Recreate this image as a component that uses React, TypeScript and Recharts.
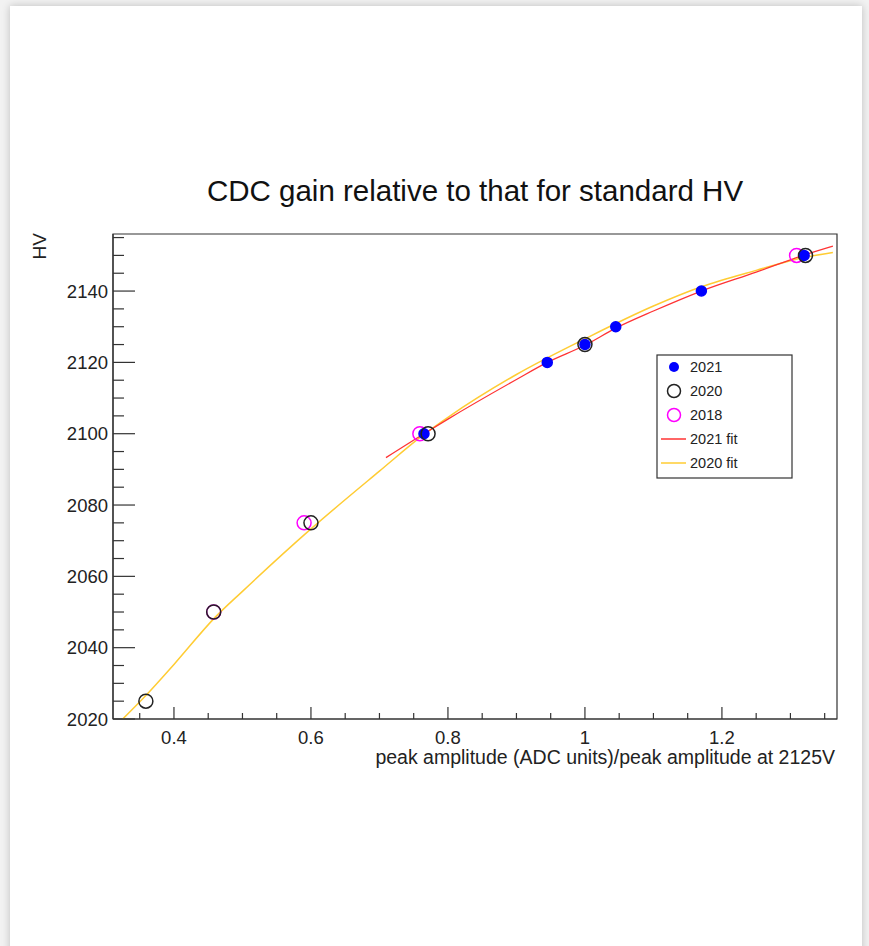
import React from "react";
import {
  ComposedChart,
  Line,
  Scatter,
  XAxis,
  YAxis,
  ReferenceArea,
} from "recharts";

// measured points (x = relative peak amplitude, y = HV)
const data2021 = [
  { x: 0.765, y: 2100 },
  { x: 0.945, y: 2120 },
  { x: 1.0, y: 2125 },
  { x: 1.045, y: 2130 },
  { x: 1.17, y: 2140 },
  { x: 1.32, y: 2150 },
];

const data2020 = [
  { x: 0.359, y: 2025 },
  { x: 0.458, y: 2050 },
  { x: 0.6, y: 2075 },
  { x: 0.771, y: 2100 },
  { x: 1.0, y: 2125 },
  { x: 1.322, y: 2150 },
];

const data2018 = [
  { x: 0.458, y: 2050 },
  { x: 0.59, y: 2075 },
  { x: 0.759, y: 2100 },
  { x: 1.309, y: 2150 },
];

// fit curves
const fit2021 = [
  { x: 0.7095, y: 2093.3 },
  { x: 0.765, y: 2100 },
  { x: 0.8, y: 2104.1 },
  { x: 0.9, y: 2115.2 },
  { x: 0.945, y: 2120 },
  { x: 1.0, y: 2124.8 },
  { x: 1.045, y: 2129.6 },
  { x: 1.1, y: 2134.4 },
  { x: 1.17, y: 2140 },
  { x: 1.25, y: 2145.3 },
  { x: 1.32, y: 2150.1 },
  { x: 1.362, y: 2152.6 },
];

const fit2020 = [
  { x: 0.3236, y: 2019.7 },
  { x: 0.36, y: 2026.8 },
  { x: 0.4, y: 2035.3 },
  { x: 0.46, y: 2048.5 },
  { x: 0.5, y: 2055.8 },
  { x: 0.6, y: 2073.3 },
  { x: 0.7, y: 2089.5 },
  { x: 0.765, y: 2099.8 },
  { x: 0.8, y: 2104.6 },
  { x: 0.9, y: 2116.6 },
  { x: 1.0, y: 2126.6 },
  { x: 1.1, y: 2135.8 },
  { x: 1.17, y: 2141.2 },
  { x: 1.25, y: 2145.8 },
  { x: 1.32, y: 2149.4 },
  { x: 1.362, y: 2150.8 },
];

const xMajor = [0.4, 0.6, 0.8, 1, 1.2];
const xTicks = [
  0.35, 0.4, 0.45, 0.5, 0.55, 0.6, 0.65, 0.7, 0.75, 0.8, 0.85, 0.9, 0.95, 1,
  1.05, 1.1, 1.15, 1.2, 1.25, 1.3, 1.35,
];
const yMajor = [2020, 2040, 2060, 2080, 2100, 2120, 2140];
const yTicks = [
  2020, 2025, 2030, 2035, 2040, 2045, 2050, 2055, 2060, 2065, 2070, 2075, 2080,
  2085, 2090, 2095, 2100, 2105, 2110, 2115, 2120, 2125, 2130, 2135, 2140, 2145,
  2150, 2155,
];

const X_DOMAIN: [number, number] = [0.311, 1.368];
const Y_DOMAIN: [number, number] = [2020, 2156];

const FONT = "'Liberation Sans', Arial, Helvetica, sans-serif";
const AXIS = "#333";

const isIn = (list: number[], v: number) => list.some((m) => Math.abs(m - v) < 1e-6);

const XTick = (props: any) => {
  const { x, y, payload } = props;
  const major = isIn(xMajor, payload.value);
  return (
    <g>
      <line x1={x} y1={y} x2={x} y2={y - (major ? 12 : 6)} stroke={AXIS} strokeWidth={1.2} />
      {major && (
        <text x={x} y={y + 25} textAnchor="middle" fontSize={18.5} fill="#222" fontFamily={FONT}>
          {payload.value}
        </text>
      )}
    </g>
  );
};

const YTick = (props: any) => {
  const { x, y, payload } = props;
  const major = isIn(yMajor, payload.value);
  return (
    <g>
      <line x1={x} y1={y} x2={x + (major ? 22 : 11)} y2={y} stroke={AXIS} strokeWidth={1.2} />
      {major && (
        <text x={x - 5} y={y + 6.5} textAnchor="end" fontSize={18.5} fill="#222" fontFamily={FONT}>
          {payload.value}
        </text>
      )}
    </g>
  );
};

const dot = (fill: string, stroke: string, r: number) => (props: any) => (
  <circle cx={props.cx} cy={props.cy} r={r} fill={fill} stroke={stroke} strokeWidth={1.5} />
);

const legendRows = [
  { label: "2021", kind: "fill", color: "#0000ff" },
  { label: "2020", kind: "open", color: "#222" },
  { label: "2018", kind: "open", color: "#ff00ff" },
  { label: "2021 fit", kind: "line", color: "#ff3333" },
  { label: "2020 fit", kind: "line", color: "#ffcc33" },
];

export default function App() {
  return (
    <div
      style={{
        position: "absolute",
        left: 0,
        top: 0,
        width: 869,
        height: 946,
        overflow: "hidden",
        background: "#f2f2f2",
      }}
    >
      <div
        style={{
          position: "absolute",
          left: 10,
          top: 6,
          width: 852,
          height: 960,
          background: "#fff",
          boxShadow: "0 0 8px rgba(0,0,0,0.22)",
        }}
      />
      <div style={{ position: "absolute", left: 0, top: 0 }}>
        <ComposedChart
          width={869}
          height={946}
          margin={{ top: 234, right: 32, bottom: 197, left: 0 }}
        >
          <XAxis
            dataKey="x"
            type="number"
            domain={X_DOMAIN}
            allowDataOverflow
            ticks={xTicks}
            interval={0}
            tick={<XTick />}
            tickLine={false}
            tickSize={0}
            tickMargin={0}
            height={30}
            axisLine={{ stroke: AXIS, strokeWidth: 1.2 }}
          />
          <YAxis
            type="number"
            domain={Y_DOMAIN}
            allowDataOverflow
            ticks={yTicks}
            interval={0}
            tick={<YTick />}
            tickLine={false}
            tickSize={0}
            tickMargin={0}
            width={113}
            axisLine={{ stroke: AXIS, strokeWidth: 1.2 }}
          />
          <ReferenceArea
            x1={X_DOMAIN[0]}
            x2={X_DOMAIN[1]}
            y1={Y_DOMAIN[0]}
            y2={Y_DOMAIN[1]}
            fill="none"
            stroke={AXIS}
            strokeWidth={1.2}
            ifOverflow="visible"
          />
          <Line
            data={fit2020}
            dataKey="y"
            type="monotone"
            stroke="#ffcc33"
            strokeWidth={1.5}
            dot={false}
            isAnimationActive={false}
          />
          <Line
            data={fit2021}
            dataKey="y"
            type="monotone"
            stroke="#ff3333"
            strokeWidth={1.3}
            dot={false}
            isAnimationActive={false}
          />
          <Scatter data={data2018} dataKey="y" shape={dot("none", "#ff00ff", 7)} isAnimationActive={false} />
          <Scatter data={data2021} dataKey="y" shape={dot("#0000ff", "#0000ff", 5)} isAnimationActive={false} />
          <Scatter data={data2020} dataKey="y" shape={dot("none", "#222", 7)} isAnimationActive={false} />
        </ComposedChart>
      </div>
      <svg
        width={869}
        height={946}
        style={{ position: "absolute", left: 0, top: 0, pointerEvents: "none" }}
        fontFamily={FONT}
      >
        <text x={475} y={201} textAnchor="middle" fontSize={29.5} fill="#111">
          CDC gain relative to that for standard HV
        </text>
        <text x={835} y={764} textAnchor="end" fontSize={19.5} fill="#222">
          peak amplitude (ADC units)/peak amplitude at 2125V
        </text>
        <text
          transform="translate(46,233) rotate(-90)"
          textAnchor="end"
          fontSize={19}
          fill="#222"
        >
          HV
        </text>
        <rect x={657} y={355} width={135} height={123} fill="#fff" stroke="#333" strokeWidth={1.2} />
        {legendRows.map((r, i) => {
          const cy = 367 + i * 24;
          return (
            <g key={r.label}>
              {r.kind === "fill" && <circle cx={674} cy={cy} r={5} fill={r.color} />}
              {r.kind === "open" && (
                <circle cx={674} cy={cy} r={6.5} fill="none" stroke={r.color} strokeWidth={1.5} />
              )}
              {r.kind === "line" && (
                <line x1={661} y1={cy} x2={686} y2={cy} stroke={r.color} strokeWidth={1.5} />
              )}
              <text x={690} y={cy + 5} fontSize={14.5} fill="#222">
                {r.label}
              </text>
            </g>
          );
        })}
      </svg>
    </div>
  );
}
